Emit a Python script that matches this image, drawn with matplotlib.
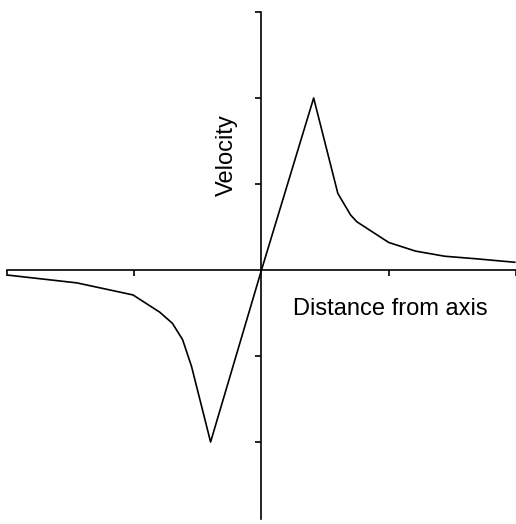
import matplotlib
matplotlib.use('Agg')
import matplotlib.pyplot as plt

# Velocity profile across a vortex: linear through the core, decaying outside
distance = [-1.99, -1.45, -1.01, -0.80, -0.70, -0.62, -0.55, -0.40, 0.0,
            0.41, 0.60, 0.70, 0.75, 1.00, 1.21, 1.44, 1.69, 1.99]
velocity = [-0.06, -0.15, -0.29, -0.49, -0.62, -0.81, -1.12, -2.0, 0.0,
            2.0, 0.89, 0.64, 0.56, 0.32, 0.22, 0.16, 0.13, 0.09]

x_ticks = [-2, -1, 1, 2]
y_ticks = [-3, -2, -1, 1, 2, 3]

plt.rcParams['font.family'] = ['Liberation Sans', 'DejaVu Sans']

fig = plt.figure(figsize=(5.16, 5.24), dpi=100)
ax = fig.add_axes([0, 0, 1, 1])

ax.plot(distance, velocity, color='black', linewidth=1.2)

ax.set_xlim(-262 / 127.5, 254 / 127.5)
ax.set_ylim(-254 / 86, 270 / 86)

# axes cross at the origin
ax.spines['left'].set_position(('data', 0))
ax.spines['bottom'].set_position(('data', 0))
ax.spines['top'].set_visible(False)
ax.spines['right'].set_visible(False)
ax.spines['left'].set_bounds(-2.9, 3)
ax.spines['bottom'].set_bounds(-2, 2.1)
for side in ('left', 'bottom'):
    ax.spines[side].set_linewidth(1.2)

ax.set_xticks(x_ticks)
ax.set_yticks(y_ticks[1:])
ax.set_xticklabels([])
ax.set_yticklabels([])
ax.tick_params(direction='out', length=4, width=1.2)

ax.text(0.245, -0.525, 'Distance from axis', fontsize=17, va='baseline', ha='left')
ax.text(-0.27, 1.34, 'Velocity', fontsize=17, rotation=90, va='center', ha='center')

fig.savefig('out.png', dpi=100)
